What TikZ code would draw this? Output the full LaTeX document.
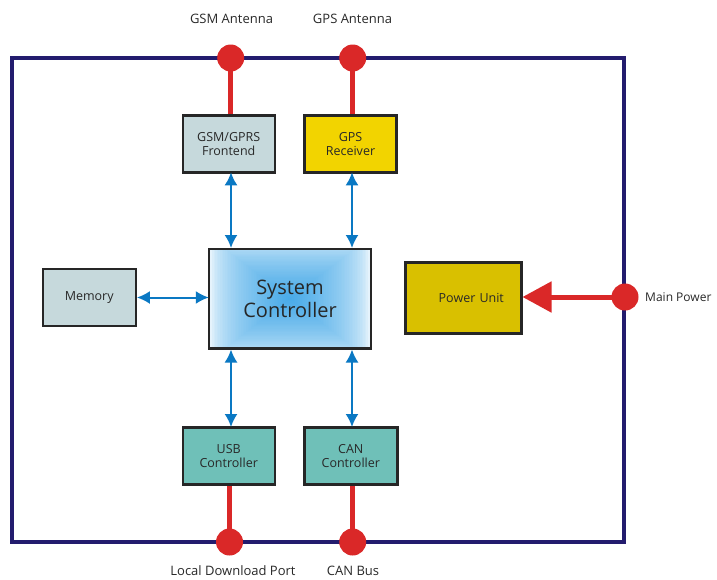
\documentclass[tikz,border=0pt]{standalone}
\usepackage{fontspec}
\setmainfont{Open Sans}
\usetikzlibrary{arrows.meta}
\definecolor{frame}{RGB}{35,28,110}
\definecolor{redc}{RGB}{218,40,40}
\definecolor{bluec}{RGB}{10,120,195}
\definecolor{greyfill}{RGB}{198,217,220}
\definecolor{yellowfill}{RGB}{242,212,0}
\definecolor{darkyellow}{RGB}{217,192,0}
\definecolor{tealfill}{RGB}{111,192,184}
\definecolor{txt}{RGB}{40,40,40}
\definecolor{sysblue}{RGB}{72,170,232}
\begin{document}
\begin{tikzpicture}[x=1pt,y=-1pt,
  blk/.style={draw=black!85,line width=2.4pt,inner sep=0pt,align=center,font=\fontsize{12.5}{14}\selectfont,text=txt},
  port/.style={circle,fill=redc,minimum size=27pt,inner sep=0pt},
  lbl/.style={font=\fontsize{13}{15}\selectfont,text=txt,inner sep=0pt},
  redline/.style={redc,line width=5pt},
  biarrow/.style={bluec,line width=2pt,{Latex[length=13pt,width=13pt]}-{Latex[length=13pt,width=13pt]}}
]
\useasboundingbox (0,0) rectangle (717,579);
% frame
\draw[frame,line width=4.5pt] (12,58) rectangle (624,542);

% boxes
\node[blk,fill=greyfill,minimum width=92pt,minimum height=57pt] (gsm) at (228.7,143.8) {GSM/GPRS\\Frontend};
\node[blk,fill=yellowfill,minimum width=92pt,minimum height=57pt] (gps) at (350.5,143.8) {GPS\\Receiver};
\node[blk,fill=greyfill,minimum width=93pt,minimum height=57pt] (mem) at (89.2,297.5) {Memory};
\node[blk,fill=darkyellow,minimum width=116pt,minimum height=71pt,text width=116pt] (pwr) at (463.3,297.8) {\hspace*{16pt}Power Unit};
\node[blk,fill=tealfill,minimum width=92pt,minimum height=57pt] (usb) at (228.7,455.8) {USB\\Controller};
\node[blk,fill=tealfill,minimum width=93pt,minimum height=57pt] (can) at (350.8,455.8) {CAN\\Controller};
\node[minimum width=162pt,minimum height=99pt,inner sep=0pt] (sys) at (290,298.6) {};
% rectangular (pyramid) gradient fill, built from nested rectangles
\begin{scope}
  \clip (sys.south west) rectangle (sys.north east);
  \fill[white] (sys.south west) rectangle (sys.north east);
  \foreach \i in {1,...,50} {
    \pgfmathsetmacro\t{\i/50}
    \pgfmathsetmacro\p{100*sqrt(\t)}
    \pgfmathsetmacro\hw{81*(1-\t)+0.3}
    \pgfmathsetmacro\hh{62*(1-\t)+0.3}
    \fill[sysblue!\p!white] ({290-\hw},{298.6-\hh}) rectangle ({290+\hw},{298.6+\hh});
  }
\end{scope}
\draw[black!85,line width=2.4pt] (sys.south west) rectangle (sys.north east);
\node[align=center,font=\fontsize{20}{23}\selectfont,text=black!85] (sysT) at (sys.center) {System\\Controller};

% ports
\node[port] (gsmA) at (230.7,58) {};
\node[port] (gpsA) at (352.7,58) {};
\node[port] (usbP) at (229.5,542) {};
\node[port] (canP) at (352.7,542) {};
\node[port] (mainP) at (625,297) {};

% labels
\node[lbl] (gsmL) at (231.5,19) {GSM Antenna};
\node[lbl] (gpsL) at (352.5,19) {GPS Antenna};
\node[lbl] (usbL) at (233,571) {Local Download Port};
\node[lbl] (canL) at (353,571) {CAN Bus};
\node[lbl,anchor=west,font=\fontsize{12}{14}\selectfont] (mainL) at (645,297) {Main Power};

% red connectors
\draw[redline] (gsmA.center) -- (gsmA.center |- gsm.north);
\draw[redline] (gpsA.center) -- (gpsA.center |- gps.north);
\draw[redline] (usbP.center) -- (usbP.center |- usb.south);
\draw[redline] (canP.center) -- (canP.center |- can.south);
\draw[redline,-{Triangle[length=29pt,width=30pt]}] (mainP.center) -- (mainP.center -| pwr.east);

% blue arrows
\draw[biarrow] (231,172.3) -- (231,248);
\draw[biarrow] (352,172.3) -- (352,248);
\draw[biarrow] (231,349.5) -- (231,427);
\draw[biarrow] (352,349.5) -- (352,427);
\draw[biarrow] (mem.east) -- (mem.east -| sys.west);
\end{tikzpicture}
\end{document}
